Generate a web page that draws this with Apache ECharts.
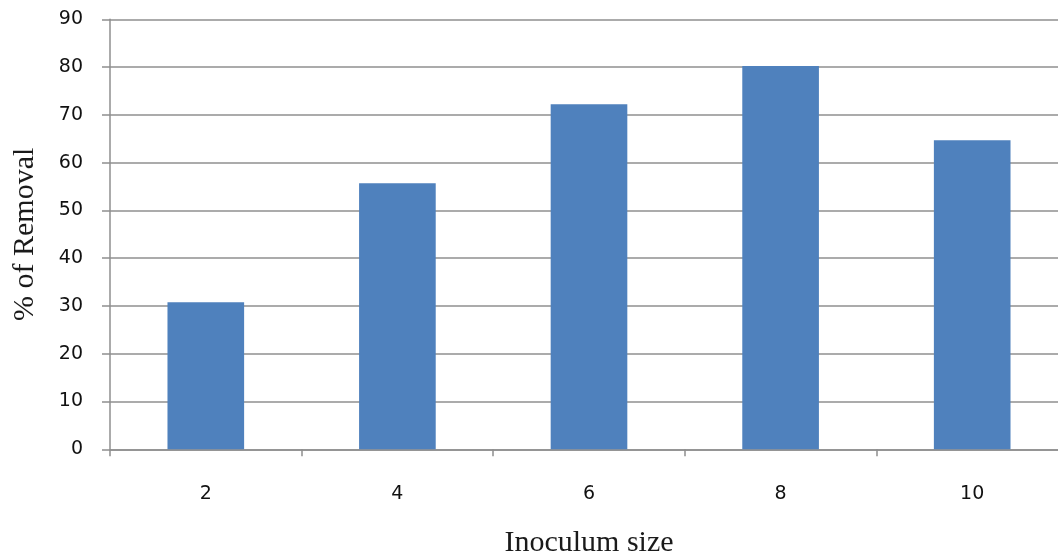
<!DOCTYPE html>
<html>
<head>
<meta charset="utf-8">
<script src="https://cdn.jsdelivr.net/npm/echarts@6/dist/echarts.min.js"></script>
<style>
  html, body { margin: 0; padding: 0; background: #fff; }
  #chart { width: 1058px; height: 556px; }
</style>
</head>
<body>
<div id="chart"></div>
<script>
// Inoculum size vs. percentage of removal
const categories = ['2', '4', '6', '8', '10'];
const removal = [30.8, 55.7, 72.2, 80.2, 64.7];
const yTicks = { min: 0, max: 90, interval: 10 };

const gridColor = '#8f8f8f';
const labelColor = '#111';
const chart = echarts.init(document.getElementById('chart'));
chart.setOption({
  animation: false,
  grid: {
    left: 110, top: 19.3, bottom: 106.7, width: 958,
    containLabel: false, outerBoundsMode: 'none'
  },
  xAxis: {
    type: 'category',
    data: categories,
    name: 'Inoculum size',
    nameLocation: 'middle',
    nameGap: 79,
    nameTextStyle: { fontFamily: 'Liberation Serif', fontSize: 30, color: '#1a1a1a' },
    axisLine: { lineStyle: { color: gridColor, width: 1.5 } },
    axisTick: { show: true, length: 7, lineStyle: { color: gridColor, width: 1.5 } },
    axisLabel: { margin: 35, fontFamily: 'DejaVu Sans', fontSize: 19, color: labelColor }
  },
  yAxis: {
    type: 'value',
    min: yTicks.min, max: yTicks.max, interval: yTicks.interval,
    name: '% of Removal',
    nameLocation: 'middle',
    nameGap: 70,
    nameRotate: 90,
    nameTextStyle: { fontFamily: 'Liberation Serif', fontSize: 30, color: '#1a1a1a' },
    axisLine: { show: true, lineStyle: { color: gridColor, width: 1.5 } },
    axisTick: { show: true, length: 8, lineStyle: { color: gridColor, width: 1.5 } },
    axisLabel: { margin: 27, fontFamily: 'DejaVu Sans', fontSize: 19, color: labelColor },
    splitLine: { lineStyle: { color: gridColor, width: 1.5 } }
  },
  series: [{
    type: 'bar',
    data: removal,
    barWidth: '40%',
    itemStyle: { color: '#4f81bd' }
  }]
});
</script>
</body>
</html>
